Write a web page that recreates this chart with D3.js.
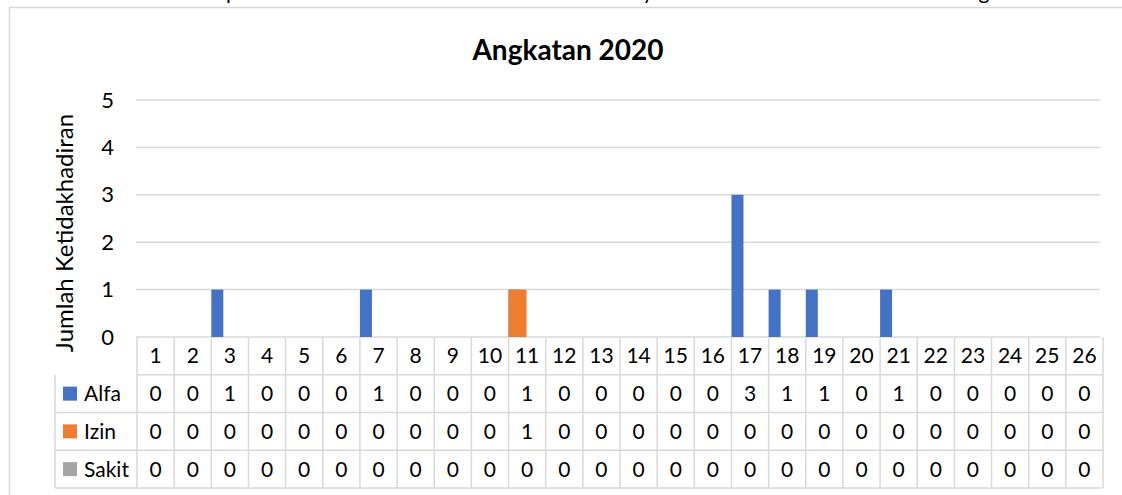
<!DOCTYPE html>
<html>
<head>
<meta charset="utf-8">
<script src="https://cdn.jsdelivr.net/npm/d3@7/dist/d3.min.js"></script>
<style>
  body { margin: 0; background: #fff; }
  svg { display: block; }
  text { font-family: Lato, "Open Sans", sans-serif; fill: #000; }
</style>
</head>
<body>
<svg id="chart" width="1122" height="495"></svg>
<script>
// data
const categories = ["1","2","3","4","5","6","7","8","9","10","11","12","13",
  "14","15","16","17","18","19","20","21","22","23","24","25","26"];
const seriesNames = ["Alfa", "Izin", "Sakit"];
const alfa  = [0,0,1,0,0,0,1,0,0,0,1,0,0,0,0,0,3,1,1,0,1,0,0,0,0,0];
const izin  = [0,0,0,0,0,0,0,0,0,0,1,0,0,0,0,0,0,0,0,0,0,0,0,0,0,0];
const sakit = [0,0,0,0,0,0,0,0,0,0,0,0,0,0,0,0,0,0,0,0,0,0,0,0,0,0];
const yTicks = [0, 1, 2, 3, 4, 5];

const chartTitle = "Angkatan 2020";
const yTitle = "Jumlah Ketidakhadiran";
const colors = { Alfa: "#4472C4", Izin: "#ED7D31", Sakit: "#A5A5A5" };
const gridColor = "#d9d9d9";

const valuesBySeries = { Alfa: alfa, Izin: izin, Sakit: sakit };

const plot = { left: 137, right: 1103, top: 100, bottom: 337 };
const tableBottom = 488;
const legendLeft = 55;
const barWidths = { Alfa: 12, Izin: 18, Sakit: 18 };

const svg = d3.select("#chart");

// chart area border (runs off the right/bottom of the picture)
svg.append("rect")
  .attr("x", 9.5).attr("y", 7.5)
  .attr("width", 1140).attr("height", 520)
  .attr("fill", "#fff")
  .attr("stroke", gridColor).attr("stroke-width", 1.5);

// cut-off line of text above the chart
svg.append("g").selectAll("text")
  .data([{ ch: "p", x: 232 }, { ch: "y", x: 648 }, { ch: "g", x: 984 }])
  .join("text")
  .attr("x", d => d.x).attr("y", -1)
  .attr("text-anchor", "middle")
  .style("font-size", "21px")
  .text(d => d.ch);

const x = d3.scaleBand().domain(categories).range([plot.left, plot.right]).padding(0);
const y = d3.scaleLinear().domain([0, 5]).range([plot.bottom, plot.top]);

// gridlines
svg.append("g").selectAll("line")
  .data(yTicks)
  .join("line")
  .attr("x1", plot.left - 1).attr("x2", plot.right - 3)
  .attr("y1", d => y(d)).attr("y2", d => y(d))
  .attr("stroke", gridColor).attr("stroke-width", 1.5);

// y axis labels
const yAxis = d3.axisLeft(y).tickValues(yTicks).tickSize(0).tickPadding(0).tickFormat(d3.format("d"));
svg.append("g")
  .attr("transform", "translate(114,0)")
  .call(yAxis)
  .call(g => g.select(".domain").remove())
  .call(g => g.selectAll("text")
    .style("font-family", "Lato, 'Open Sans', sans-serif")
    .style("font-size", "22px")
    .attr("fill", "#000"));

// bars: series overlapped, later series drawn on top
seriesNames.forEach(s => {
  svg.append("g").selectAll("rect")
    .data(valuesBySeries[s].map((v, i) => ({ cat: categories[i], v })).filter(d => d.v > 0))
    .join("rect")
    .attr("x", d => x(d.cat))
    .attr("width", barWidths[s])
    .attr("y", d => y(d.v))
    .attr("height", d => y(0) - y(d.v))
    .attr("fill", colors[s]);
});

// data table
const rows = d3.scaleBand().domain(["header"].concat(seriesNames)).range([plot.bottom, tableBottom]);
const table = svg.append("g");

// horizontal lines
table.selectAll("line.h")
  .data(["header"].concat(seriesNames))
  .join("line")
  .attr("class", "h")
  .attr("x1", d => d === "header" ? plot.left : legendLeft)
  .attr("x2", plot.right)
  .attr("y1", d => rows(d) + rows.bandwidth())
  .attr("y2", d => rows(d) + rows.bandwidth())
  .attr("stroke", gridColor).attr("stroke-width", 1.5);

// vertical lines between categories
table.selectAll("line.v")
  .data(categories.concat(["end"]))
  .join("line")
  .attr("class", "v")
  .attr("x1", d => d === "end" ? plot.right : x(d))
  .attr("x2", d => d === "end" ? plot.right : x(d))
  .attr("y1", plot.bottom).attr("y2", tableBottom)
  .attr("stroke", gridColor).attr("stroke-width", 1.5);

// legend column left edge
table.append("line")
  .attr("x1", legendLeft).attr("x2", legendLeft)
  .attr("y1", rows("Alfa")).attr("y2", tableBottom)
  .attr("stroke", gridColor).attr("stroke-width", 1.5);

// category labels
table.selectAll("text.cat")
  .data(categories)
  .join("text")
  .attr("class", "cat")
  .attr("x", d => x(d) + x.bandwidth() / 2)
  .attr("y", rows("header") + rows.bandwidth() / 2)
  .attr("dy", "0.36em")
  .attr("text-anchor", "middle")
  .style("font-size", "21px")
  .text(d => d);

// legend keys + values
seriesNames.forEach(s => {
  const cy = rows(s) + rows.bandwidth() / 2;
  table.append("rect")
    .attr("x", 63).attr("y", cy - 7)
    .attr("width", 14).attr("height", 14)
    .attr("fill", colors[s]);
  table.append("text")
    .attr("x", 84).attr("y", cy)
    .attr("dy", "0.36em")
    .style("font-size", "21px")
    .text(s);
  table.append("g").selectAll("text")
    .data(valuesBySeries[s])
    .join("text")
    .attr("x", (d, i) => x(categories[i]) + x.bandwidth() / 2)
    .attr("y", cy)
    .attr("dy", "0.36em")
    .attr("text-anchor", "middle")
    .style("font-size", "21px")
    .text(d => d);
});

// titles
svg.append("text")
  .attr("x", 568).attr("y", 60)
  .attr("text-anchor", "middle")
  .style("font-size", "28px").style("font-weight", "bold")
  .text(chartTitle);

svg.append("text")
  .attr("transform", "translate(73,233) rotate(-90)")
  .attr("text-anchor", "middle")
  .style("font-size", "24px")
  .text(yTitle);
</script>
</body>
</html>
